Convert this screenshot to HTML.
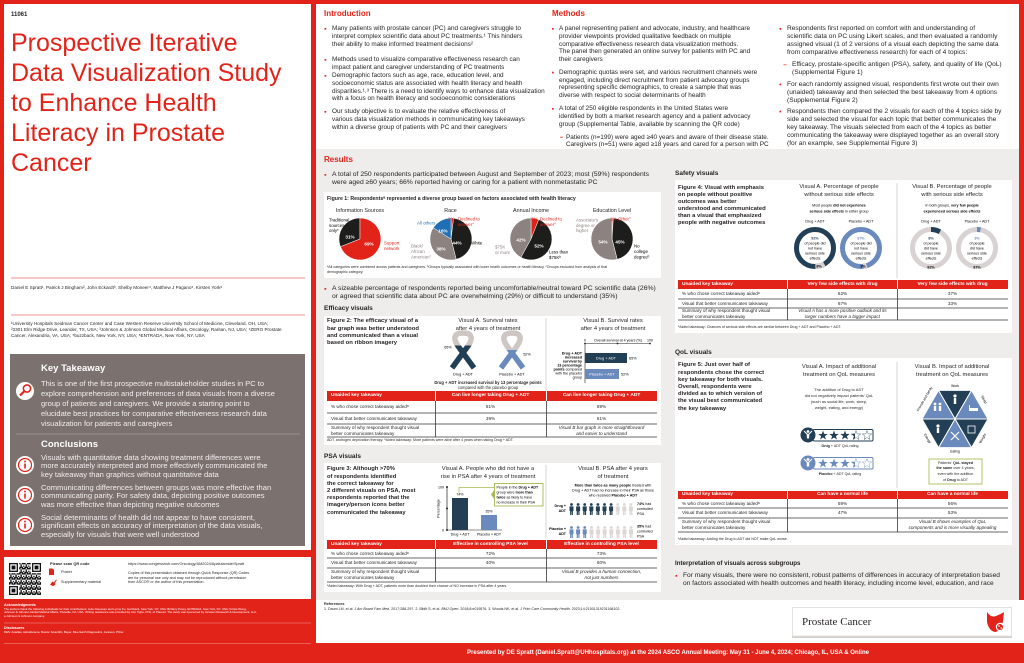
<!DOCTYPE html>
<html><head><meta charset="utf-8">
<style>
*{margin:0;padding:0;box-sizing:border-box}
body{width:1024px;height:663px;overflow:hidden;position:relative;font-family:"Liberation Sans",sans-serif;color:#231f20;background:#e2231a}
.a{position:absolute;white-space:nowrap}
.b{font-weight:bold}
.c{text-align:center;transform:translateX(-50%)}
.r{text-align:right;transform:translateX(-100%)}
.i{font-style:italic}
svg{position:absolute;left:0;top:0}
svg text{font-family:"Liberation Sans",sans-serif}
.p1{font-size:6.4px;line-height:7.67px}
.p3{font-size:6.6px;line-height:8.1px}
.rb{font-size:6.8px;line-height:8.3px}
.h1{font-size:8px;line-height:10px;font-weight:bold;color:#e2231a}
.h2{font-size:6.5px;line-height:8px;font-weight:bold}
.ft{font-size:5.9px;line-height:7.2px;font-weight:bold}
.vt{font-size:5.8px;line-height:7.5px}
.th{font-size:4.8px;line-height:6px;font-weight:bold;color:#fff}
.td{font-size:4.6px;line-height:6px}
.fn{font-size:3.6px;line-height:5px}
.w{color:#fff}
</style></head><body>
<svg width="1024" height="663" viewBox="0 0 1024 663">
<defs>
<linearGradient id="g1" gradientUnits="userSpaceOnUse" x1="0" y1="333" x2="0" y2="368"><stop offset="0.35" stop-color="#cdc6c2"/><stop offset="0.35" stop-color="#223f55"/></linearGradient>
<linearGradient id="g2" gradientUnits="userSpaceOnUse" x1="0" y1="333" x2="0" y2="368"><stop offset="0.48" stop-color="#cdc6c2"/><stop offset="0.48" stop-color="#6a89bd"/></linearGradient>
<polygon id="st" points="0,-5 1.176,-1.618 4.755,-1.545 1.902,0.618 2.939,4.045 0,2 -2.939,4.045 -1.902,0.618 -4.755,-1.545 -1.176,-1.618"/>
<g id="p"><circle cx="2.5" cy="1.5" r="1.4"/><path d="M0.5 3.4h4v4.6h-0.6v4h-1.2v-3.4h-0.4v3.4h-1.2v-4h-0.6z"/></g>
<pattern id="qr" width="5.12" height="5.12" patternUnits="userSpaceOnUse" x="9" y="563"><rect x="0" y="0" width="1.28" height="1.28"/><rect x="2.56" y="0" width="2.56" height="1.28"/><rect x="1.28" y="1.28" width="1.28" height="2.56"/><rect x="3.84" y="2.56" width="1.28" height="1.28"/><rect x="0" y="3.84" width="2.56" height="1.28"/><rect x="2.56" y="3.84" width="1.28" height="1.28"/></pattern>
<clipPath id="hc1"><rect x="850" y="428" width="5" height="14"/></clipPath>
<clipPath id="hc2"><rect x="850" y="456" width="5" height="14"/></clipPath>
</defs>
<rect width="1024" height="663" fill="#e2231a"/>
<rect x="4" y="4" width="307" height="546" fill="#fff"/>
<rect x="316" y="4" width="703" height="145" fill="#fff"/>
<rect x="316" y="149" width="703" height="451" fill="#eeedeb"/>
<rect x="316" y="600" width="708" height="43" fill="#fff"/>
<rect x="4" y="557" width="307" height="42" fill="#fff"/>
<rect x="10" y="354" width="295" height="192" fill="#7b716e"/>
<line x1="16" y1="434" x2="300" y2="434" stroke="#a59c99" stroke-width="0.8"/>
<line x1="11" y1="278" x2="305" y2="278" stroke="#e2231a" stroke-width="0.6"/>
<line x1="11" y1="315" x2="305" y2="315" stroke="#e2231a" stroke-width="0.6"/>
<line x1="4" y1="623" x2="311" y2="623" stroke="#f29a96" stroke-width="0.6"/>
<line x1="4" y1="643.5" x2="311" y2="643.5" stroke="#f29a96" stroke-width="0.6"/>
<circle cx="25" cy="391" r="9" fill="#fff"/>
<circle cx="27" cy="388.5" r="3.6" fill="none" stroke="#e2231a" stroke-width="1.6"/>
<line x1="24.5" y1="391" x2="20" y2="395.5" stroke="#e2231a" stroke-width="2.2"/>
<g fill="#fff"><circle cx="25" cy="465" r="9"/><circle cx="25" cy="495" r="9"/><circle cx="25" cy="525" r="9"/></g>
<g fill="none" stroke="#e2231a" stroke-width="1.2"><circle cx="25" cy="465" r="6.5"/><circle cx="25" cy="495" r="6.5"/><circle cx="25" cy="525" r="6.5"/></g>
<g fill="#e2231a"><rect x="24.2" y="463.5" width="1.6" height="5"/><circle cx="25" cy="461.5" r="0.95"/><rect x="24.2" y="493.5" width="1.6" height="5"/><circle cx="25" cy="491.5" r="0.95"/><rect x="24.2" y="523.5" width="1.6" height="5"/><circle cx="25" cy="521.5" r="0.95"/></g>
<rect x="9" y="563" width="32" height="32" fill="url(#qr)"/>
<g fill="#fff"><rect x="9" y="563" width="10.24" height="10.24"/><rect x="30.76" y="563" width="10.24" height="10.24"/><rect x="9" y="584.76" width="10.24" height="10.24"/></g>
<g fill="#111"><rect x="9" y="563" width="8.96" height="8.96"/><rect x="32.04" y="563" width="8.96" height="8.96"/><rect x="9" y="586.04" width="8.96" height="8.96"/></g>
<g fill="#fff"><rect x="10.28" y="564.28" width="6.4" height="6.4"/><rect x="33.32" y="564.28" width="6.4" height="6.4"/><rect x="10.28" y="587.32" width="6.4" height="6.4"/></g>
<g fill="#111"><rect x="11.56" y="565.56" width="3.84" height="3.84"/><rect x="34.6" y="565.56" width="3.84" height="3.84"/><rect x="11.56" y="588.6" width="3.84" height="3.84"/></g>
<path d="M49 568.5h3.5l1.5 1.5v5h-5z" fill="#e2231a"/>
<path d="M50 584.5l2.5-3 1.5 1 2-3 0.8 0.6-2 3.2 0.8 1.2-2.6 1.8z" fill="#e2231a"/>
<g fill="#e2231a">
<rect x="324.5" y="28" width="1.7" height="1.7"/><rect x="324.5" y="59" width="1.7" height="1.7"/><rect x="324.5" y="75" width="1.7" height="1.7"/><rect x="324.5" y="111" width="1.7" height="1.7"/>
<rect x="552" y="28" width="1.7" height="1.7"/><rect x="552" y="71.7" width="1.7" height="1.7"/><rect x="552" y="108" width="1.7" height="1.7"/><rect x="560" y="136.8" width="3" height="0.7"/>
<rect x="779.5" y="28" width="1.7" height="1.7"/><rect x="783.5" y="64.5" width="3" height="0.7"/><rect x="779.5" y="83.6" width="1.7" height="1.7"/><rect x="779.5" y="110.7" width="1.7" height="1.7"/>
<rect x="324.5" y="174" width="1.7" height="1.7"/><rect x="324.5" y="288" width="1.7" height="1.7"/><rect x="675.5" y="575" width="1.7" height="1.7"/>
</g>
<g fill="#fff">
<rect x="324" y="192" width="337" height="86"/>
<rect x="324" y="316" width="337" height="129"/>
<rect x="324" y="463" width="337" height="129"/>
<rect x="675" y="180" width="337" height="153"/>
<rect x="675" y="358" width="337" height="187"/>
</g>
<g stroke="#fff" stroke-width="0.5">
<path d="M360,239 L340.47,246.73 A21,21 0 0 1 360,218 Z" fill="#1d1d1b"/>
<path d="M360,239 L360,218 A21,21 0 1 1 340.47,246.73 Z" fill="#e2231a"/>
<path d="M451,239 L451,218 A21,21 0 0 1 453.63,218.17 Z" fill="#e2231a"/>
<path d="M451,239 L453.63,218.17 A21,21 0 0 1 456.22,259.34 Z" fill="#1d1d1b"/>
<path d="M451,239 L456.22,259.34 A21,21 0 0 1 433.27,227.75 Z" fill="#8c8280"/>
<path d="M451,239 L433.27,227.75 A21,21 0 0 1 451,218 Z" fill="#1f6fb4"/>
<path d="M531,239 L531,218 A21,21 0 0 1 538.73,219.47 Z" fill="#e2231a"/>
<path d="M531,239 L538.73,219.47 A21,21 0 1 1 520.88,257.40 Z" fill="#1d1d1b"/>
<path d="M531,239 L520.88,257.40 A21,21 0 0 1 531,218 Z" fill="#8c8280"/>
<path d="M612,239 L612,218 A21,21 0 0 1 613.32,218.04 Z" fill="#e2231a"/>
<path d="M612,239 L613.32,218.04 A21,21 0 0 1 617.22,259.34 Z" fill="#1d1d1b"/>
<path d="M612,239 L617.22,259.34 A21,21 0 1 1 612,218 Z" fill="#8c8280"/>
</g>
<g font-size="4.4">
<text x="329" y="221.5">Traditional</text><text x="329" y="226.8">sources</text><text x="329" y="232.1">only*</text>
<text x="384" y="244.5" fill="#e2231a">Support</text><text x="384" y="250" fill="#e2231a">network</text>
<text x="417" y="224.5" fill="#1f6fb4">All others</text>
<text x="448" y="220.5" fill="#e2231a">2%</text><text x="458" y="220.5" fill="#e2231a">Declined to</text><text x="458" y="226" fill="#e2231a">answer°</text>
<text x="471" y="244.5">White</text>
<text x="411" y="247.5" fill="#8c8280">Black/</text><text x="411" y="253" fill="#8c8280">African</text><text x="411" y="258.5" fill="#8c8280">American°</text>
<text x="531" y="220.5" fill="#e2231a">6%</text><text x="540" y="220.5" fill="#e2231a">Declined to</text><text x="540" y="226" fill="#e2231a">answer°</text>
<text x="495" y="248.5" fill="#8c8280">$75K</text><text x="495" y="254" fill="#8c8280">or more</text>
<text x="549" y="253.5">Less than</text><text x="549" y="259">$75Kᵇ</text>
<text x="610" y="220.5" fill="#e2231a">1%</text><text x="618" y="220.5" fill="#e2231a">Other°</text>
<text x="576" y="221.5" fill="#8c8280">Associate's</text><text x="576" y="226.8" fill="#8c8280">degree or</text><text x="576" y="232.1" fill="#8c8280">higher</text>
<text x="634" y="247.5">No</text><text x="634" y="253">college</text><text x="634" y="258.5">degreeᵇ</text>
</g>
<g font-size="4.6" font-weight="bold" fill="#fff" text-anchor="middle">
<text x="350" y="238.6">31%</text><text x="369" y="245.6">69%</text>
<text x="443" y="232.6">16%</text><text x="457" y="244.6">44%</text><text x="441" y="250.6">38%</text>
<text x="521" y="241.6">42%</text><text x="539" y="247.6">52%</text>
<text x="603" y="243.6">54%</text><text x="620" y="243.6">45%</text>
</g>
<line x1="546" y1="318" x2="546" y2="390" stroke="#cfcac8" stroke-width="0.8"/>
<path d="M474 368 L458 346 C452 337 455 333 463 333 C471 333 474 337 468 346 L452 368" fill="none" stroke="url(#g1)" stroke-width="5.5" stroke-linejoin="round"/>
<path d="M523 368 L507 346 C501 337 504 333 512 333 C520 333 523 337 517 346 L501 368" fill="none" stroke="url(#g2)" stroke-width="5.5" stroke-linejoin="round"/>
<g font-size="3.8" text-anchor="middle">
<text x="448" y="348.3">65%</text><text x="527" y="355.3">52%</text>
<text x="463" y="375.3">Drug + ADT</text><text x="512" y="375.3">Placebo + ADT</text>
</g>
<g font-size="3.6">
<text x="585" y="341.3" text-anchor="middle">0</text><text x="650" y="341.3" text-anchor="middle">100</text>
<text x="618" y="341.3" text-anchor="middle">Overall survival at 4 years (%)</text>
</g>
<line x1="585" y1="343.5" x2="650" y2="343.5" stroke="#231f20" stroke-width="0.6"/>
<g fill="#231f20"><circle cx="585" cy="343.5" r="0.9"/><circle cx="617.5" cy="343.5" r="0.9"/><circle cx="650" cy="343.5" r="0.9"/></g>
<line x1="585" y1="343.5" x2="585" y2="383" stroke="#231f20" stroke-width="0.6"/>
<rect x="585" y="353" width="42" height="10" fill="#223f55"/>
<rect x="585" y="369" width="34" height="10" fill="#6a89bd"/>
<g font-size="3.8">
<text x="606" y="359.3" text-anchor="middle" fill="#fff">Drug + ADT</text>
<text x="602" y="375.3" text-anchor="middle" fill="#fff">Placebo + ADT</text>
<text x="629" y="359.3">65%</text><text x="621" y="375.3">52%</text>
</g>
<g font-size="3.7" text-anchor="end">
<text x="582" y="354.3" font-weight="bold">Drug + ADT</text>
<text x="582" y="358.3" font-weight="bold">increased</text>
<text x="582" y="362.3" font-weight="bold">survival by</text>
<text x="582" y="366.3" font-weight="bold">13 percentage</text>
<text x="582" y="370.3"><tspan font-weight="bold">points</tspan> compared</text>
<text x="582" y="374.3">with the placebo</text>
<text x="582" y="378.3">group</text>
</g>
<g fill="#e2231a"><rect x="327" y="391" width="108" height="10"/><rect x="436" y="391" width="110" height="10"/><rect x="547" y="391" width="110" height="10"/></g>
<path d="M327 413H657M327 424H657M327 437H657" stroke="#3a3a3a" stroke-width="0.8"/>
<path d="M435.5 401V437M546.5 401V437" stroke="#3a3a3a" stroke-width="0.8"/>
<line x1="546" y1="465" x2="546" y2="538" stroke="#cfcac8" stroke-width="0.8"/>
<line x1="447" y1="487" x2="447" y2="530" stroke="#231f20" stroke-width="0.7"/>
<line x1="447" y1="530" x2="502" y2="530" stroke="#231f20" stroke-width="0.5"/>
<g fill="#231f20"><circle cx="447" cy="487" r="1"/><circle cx="447" cy="508.5" r="1"/><circle cx="447" cy="530" r="1"/></g>
<rect x="452" y="498" width="16" height="32" fill="#223f55"/>
<rect x="481" y="515" width="16" height="15" fill="#6a89bd"/>
<g font-size="3.6">
<text x="444" y="488.3" text-anchor="end">100</text><text x="444" y="531.3" text-anchor="end">0</text>
<text x="460" y="495.5" text-anchor="middle">74%</text><text x="489" y="512.5" text-anchor="middle">35%</text>
<text x="460" y="535.5" text-anchor="middle">Drug + ADT</text><text x="489" y="535.5" text-anchor="middle">Placebo + ADT</text>
<text transform="translate(439.5 508.5) rotate(-90)" text-anchor="middle">Percentage</text>
</g>
<polyline points="459,492.5 459,487.5 494,487.5" fill="none" stroke="#a7b94f" stroke-width="0.8"/>
<rect x="494.5" y="483.5" width="48.5" height="22.5" fill="#fff" stroke="#a7b94f" stroke-width="0.9"/>
<polygon points="494.5,489.5 491,494.5 494.5,499.5" fill="#a7b94f"/>
<g font-size="3.6">
<text x="496.5" y="488.3">People in the <tspan font-weight="bold">Drug + ADT</tspan></text>
<text x="496.5" y="493.3">group were <tspan font-weight="bold">more than</tspan></text>
<text x="496.5" y="498.3"><tspan font-weight="bold">twice</tspan> as likely to have</text>
<text x="496.5" y="503.3">no increase in their PSA</text>
</g>
<g font-size="3.7" text-anchor="middle">
<text x="613" y="486.3"><tspan font-weight="bold">More than twice as many people</tspan> treated with</text>
<text x="613" y="491.3">Drug + ADT had no increase in their PSA as those</text>
<text x="613" y="496.3">who received <tspan font-weight="bold">Placebo + ADT</tspan></text>
</g>
<g fill="#223f55">
<use href="#p" x="569" y="503"/><use href="#p" x="575.6" y="503"/><use href="#p" x="582.2" y="503"/><use href="#p" x="588.8" y="503"/><use href="#p" x="595.4" y="503"/><use href="#p" x="602" y="503"/><use href="#p" x="608.6" y="503"/>
</g>
<g fill="#dcd7d5">
<use href="#p" x="615.2" y="503"/><use href="#p" x="621.8" y="503"/><use href="#p" x="628.4" y="503"/>
<use href="#p" x="589" y="526"/><use href="#p" x="595.6" y="526"/><use href="#p" x="602.2" y="526"/><use href="#p" x="608.8" y="526"/><use href="#p" x="615.4" y="526"/><use href="#p" x="622" y="526"/><use href="#p" x="628.6" y="526"/>
</g>
<g fill="#6a89bd"><use href="#p" x="569" y="526"/><use href="#p" x="575.6" y="526"/><use href="#p" x="582.2" y="526"/></g>
<g font-size="3.6">
<text x="566" y="506.8" text-anchor="end" font-weight="bold">Drug +</text><text x="566" y="511.8" text-anchor="end" font-weight="bold">ADT</text>
<text x="566" y="529.8" text-anchor="end" font-weight="bold">Placebo +</text><text x="566" y="534.8" text-anchor="end" font-weight="bold">ADT</text>
<text x="637" y="504.8"><tspan font-weight="bold">74%</tspan> had</text><text x="637" y="509.8">controlled</text><text x="637" y="514.8">PSA</text>
<text x="637" y="527.3"><tspan font-weight="bold">35%</tspan> had</text><text x="637" y="532.3">controlled</text><text x="637" y="537.3">PSA</text>
</g>
<g fill="#e2231a"><rect x="327" y="540" width="108" height="9"/><rect x="436" y="540" width="110" height="9"/><rect x="547" y="540" width="110" height="9"/></g>
<path d="M327 558H657M327 568H657M327 582H657" stroke="#3a3a3a" stroke-width="0.8"/>
<path d="M435.5 549V582M546.5 549V582" stroke="#3a3a3a" stroke-width="0.8"/>
<line x1="897" y1="183" x2="897" y2="278" stroke="#cfcac8" stroke-width="0.8"/>
<circle cx="815" cy="248" r="18.5" fill="none" stroke="#223f55" stroke-width="5"/>
<circle cx="815" cy="248" r="18.5" fill="none" stroke="#d8d3d2" stroke-width="5" stroke-dasharray="9.3 200" transform="rotate(60 815 248)"/>
<circle cx="861" cy="248" r="18.5" fill="none" stroke="#6a89bd" stroke-width="5"/>
<circle cx="861" cy="248" r="18.5" fill="none" stroke="#d8d3d2" stroke-width="5" stroke-dasharray="3.5 200" transform="rotate(72 861 248)"/>
<circle cx="931" cy="248" r="18.5" fill="none" stroke="#d8d3d2" stroke-width="5"/>
<circle cx="931" cy="248" r="18.5" fill="none" stroke="#223f55" stroke-width="5" stroke-dasharray="9.3 200" transform="rotate(-90 931 248)"/>
<circle cx="977" cy="248" r="18.5" fill="none" stroke="#d8d3d2" stroke-width="5"/>
<circle cx="977" cy="248" r="18.5" fill="none" stroke="#6a89bd" stroke-width="5" stroke-dasharray="3.5 200" transform="rotate(-90 977 248)"/>
<g font-size="3.7" text-anchor="middle">
<text x="839" y="206.3">Most people <tspan font-weight="bold">did not experience</tspan></text>
<text x="839" y="212.3"><tspan font-weight="bold">serious side effects</tspan> in either group</text>
<text x="952" y="206.3">In both groups, <tspan font-weight="bold">very few people</tspan></text>
<text x="952" y="212.3"><tspan font-weight="bold">experienced serious side effects</tspan></text>
<text x="815" y="222.3">Drug + ADT</text><text x="861" y="222.3">Placebo + ADT</text>
<text x="931" y="222.3">Drug + ADT</text><text x="977" y="222.3">Placebo + ADT</text>
<text x="815" y="239.3" fill="#223f55" font-weight="bold">92%</text><text x="815" y="244.3">of people did</text><text x="815" y="249.3">not have</text><text x="815" y="254.3">serious side</text><text x="815" y="259.3">effects</text>
<text x="861" y="239.3" fill="#6a89bd" font-weight="bold">97%</text><text x="861" y="244.3">of people did</text><text x="861" y="249.3">not have</text><text x="861" y="254.3">serious side</text><text x="861" y="259.3">effects</text>
<text x="931" y="239.3" fill="#223f55" font-weight="bold">8%</text><text x="931" y="244.3">of people</text><text x="931" y="249.3">did have</text><text x="931" y="254.3">serious side</text><text x="931" y="259.3">effects</text>
<text x="977" y="239.3" fill="#6a89bd" font-weight="bold">3%</text><text x="977" y="244.3">of people</text><text x="977" y="249.3">did have</text><text x="977" y="254.3">serious side</text><text x="977" y="259.3">effects</text>
<text x="819" y="267.6" font-weight="bold">8%</text><text x="863" y="267.6" font-weight="bold">3%</text>
<text x="931" y="268.3" font-weight="bold">92%</text><text x="977" y="268.3" font-weight="bold">97%</text>
</g>
<g fill="#e2231a"><rect x="678" y="280" width="109" height="9"/><rect x="788" y="280" width="109" height="9"/><rect x="898" y="280" width="110" height="9"/></g>
<path d="M678 299H1008M678 308H1008M678 320H1008" stroke="#3a3a3a" stroke-width="0.8"/>
<path d="M787.5 289V320M897.5 289V320" stroke="#3a3a3a" stroke-width="0.8"/>
<line x1="897" y1="362" x2="897" y2="488" stroke="#cfcac8" stroke-width="0.8"/>
<rect x="813" y="429.5" width="60" height="11.5" rx="1.5" fill="#fff" stroke="#223f55" stroke-width="1"/>
<circle cx="808" cy="435" r="7.5" fill="#223f55"/>
<g fill="#223f55"><use href="#st" transform="translate(823 435.5)"/><use href="#st" transform="translate(834 435.5)"/><use href="#st" transform="translate(845 435.5)"/><g clip-path="url(#hc1)"><use href="#st" transform="translate(856 435.5)"/></g></g>
<g fill="none" stroke="#223f55" stroke-width="0.4"><use href="#st" transform="translate(856 435.5)"/><use href="#st" transform="translate(867 435.5)"/></g>
<rect x="813" y="457.5" width="60" height="11.5" rx="1.5" fill="#fff" stroke="#6a89bd" stroke-width="1"/>
<circle cx="808" cy="463" r="7.5" fill="#6a89bd"/>
<g fill="#6a89bd"><use href="#st" transform="translate(823 463.5)"/><use href="#st" transform="translate(834 463.5)"/><use href="#st" transform="translate(845 463.5)"/><g clip-path="url(#hc2)"><use href="#st" transform="translate(856 463.5)"/></g></g>
<g fill="none" stroke="#6a89bd" stroke-width="0.4"><use href="#st" transform="translate(856 463.5)"/><use href="#st" transform="translate(867 463.5)"/></g>
<g fill="#fff"><circle cx="808" cy="431.5" r="1.4"/><rect x="806.8" y="434" width="2.4" height="4.5"/><circle cx="808" cy="459.5" r="1.4"/><rect x="806.8" y="462" width="2.4" height="4.5"/></g>
<path d="M804 431l4 4 4-4M804 459l4 4 4-4" fill="none" stroke="#fff" stroke-width="1"/>
<g stroke="#fff" stroke-width="1">
<polygon points="955,419 938.5,390.4 971.5,390.4" fill="#223f55"/>
<polygon points="955,419 971.5,390.4 988,419" fill="#6a89bd"/>
<polygon points="955,419 988,419 971.5,447.6" fill="#223f55"/>
<polygon points="955,419 971.5,447.6 938.5,447.6" fill="#6a89bd"/>
<polygon points="955,419 938.5,447.6 922,419" fill="#223f55"/>
<polygon points="955,419 922,419 938.5,390.4" fill="#6a89bd"/>
</g>
<g fill="#fff">
<circle cx="955" cy="396" r="1.6"/><rect x="953.8" y="398" width="2.4" height="6"/>
<rect x="969" y="408" width="9" height="3"/><rect x="969" y="405" width="1" height="6"/>
<rect x="968" y="426" width="7" height="7" fill="none" stroke="#fff" stroke-width="0.8"/>
<path d="M951 432l8 8M959 432l-8 8" stroke="#fff" stroke-width="1.2"/>
<circle cx="938" cy="426" r="1.6"/><rect x="936.8" y="428" width="2.4" height="5"/>
<circle cx="935" cy="404" r="1.4"/><rect x="933.8" y="406" width="2.4" height="5"/><circle cx="940" cy="404" r="1.4"/><rect x="938.8" y="406" width="2.4" height="5"/>
</g>
<g font-size="3.4" text-anchor="middle">
<text x="955" y="387.2">Work</text>
<text x="955" y="452.6">Eating</text>
<text transform="translate(983 400) rotate(60)">Sleep</text>
<text transform="translate(983.5 439) rotate(-60)">Weight</text>
<text transform="translate(926.5 439) rotate(60)">Energy</text>
<text transform="translate(925.5 399.5) rotate(-60)">Friends and family</text>
</g>
<rect x="929" y="459" width="53" height="25" fill="#fff" stroke="#b5c46a" stroke-width="1"/>
<g fill="#e2231a"><rect x="678" y="491" width="109" height="8"/><rect x="788" y="491" width="109" height="8"/><rect x="898" y="491" width="110" height="8"/></g>
<path d="M678 508H1008M678 518H1008M678 532H1008" stroke="#3a3a3a" stroke-width="0.8"/>
<path d="M787.5 499V532M897.5 499V532" stroke="#3a3a3a" stroke-width="0.8"/>
<rect x="792" y="607" width="220" height="31" fill="#d5d0ce"/>
<rect x="792.5" y="607.5" width="219" height="28.5" fill="#fff" stroke="#e3dfdd" stroke-width="0.8"/>
<path d="M987 612 q4 6 9 4 q5 -2 8 -4 l-1 9 q-2 10 -8 11 q-6 -1 -8 -10z" fill="#e2231a"/>
<circle cx="1000" cy="627" r="4.2" fill="#fff"/><circle cx="1000" cy="627" r="3" fill="#e2231a"/><circle cx="999" cy="626" r="0.8" fill="#fff"/><circle cx="1001.2" cy="628" r="0.8" fill="#fff"/>
</svg>

<div class="a b" style="left:11px;top:12px;font-size:6px;line-height:6px">11061</div>
<div class="a" style="left:11px;top:28px;font-size:25px;line-height:30px;color:#e2231a">Prospective Iterative<br>Data Visualization Study<br>to Enhance Health<br>Literacy in Prostate<br>Cancer</div>
<div class="a" style="left:11px;top:284.5px;font-size:4.6px;line-height:5px">Daniel E Spratt¹, Patrick J Bingham², John Eckardt³, Shelby Moneer⁴, Matthew J Pagano⁵, Kirsten York⁶</div>
<div class="a" style="left:11px;top:321px;font-size:4.6px;line-height:5.8px">¹University Hospitals Seidman Cancer Center and Case Western Reserve University School of Medicine, Cleveland, OH, USA;<br>²3301 Elm Ridge Drive, Leander, TX, USA; ³Johnson &amp; Johnson Global Medical Affairs, Oncology, Raritan, NJ, USA; ⁴ZERO Prostate<br>Cancer, Alexandria, VA, USA; ⁵buzzback, New York, NY, USA; ⁶ENTRADA, New York, NY, USA</div>
<div class="a b w" style="left:41px;top:362.5px;font-size:9.5px;line-height:11px">Key Takeaway</div>
<div class="a" style="left:41px;top:379px;font-size:7.5px;line-height:10px;color:#f2efee">This is one of the first prospective multistakeholder studies in PC to<br>explore comprehension and preferences of data visuals from a diverse<br>group of patients and caregivers. We provide a starting point to<br>elucidate best practices for comparative effectiveness research data<br>visualization for patients and caregivers</div>
<div class="a b w" style="left:41px;top:438.5px;font-size:9.5px;line-height:11px">Conclusions</div>
<div class="a" style="left:41px;top:453.8px;font-size:7.6px;line-height:8.4px;color:#f2efee">Visuals with quantitative data showing treatment differences were<br>more accurately interpreted and more effectively communicated the<br>key takeaway than graphics without quantitative data</div>
<div class="a" style="left:41px;top:483.8px;font-size:7.6px;line-height:8.4px;color:#f2efee">Communicating differences between groups was more effective than<br>communicating parity. For safety data, depicting positive outcomes<br>was more effective than depicting negative outcomes</div>
<div class="a" style="left:41px;top:513.8px;font-size:7.6px;line-height:8.4px;color:#f2efee">Social determinants of health did not appear to have consistent,<br>significant effects on accuracy of interpretation of the data visuals,<br>especially for visuals that were well understood</div>
<div class="a b" style="left:50px;top:562px;font-size:3.9px;line-height:4px">Please scan QR code</div>
<div class="a" style="left:61px;top:570px;font-size:3.8px;line-height:4px">Poster</div>
<div class="a" style="left:61px;top:580px;font-size:3.8px;line-height:4px">Supplementary material</div>
<div class="a" style="left:128px;top:562px;font-size:3.8px;line-height:4px">https://www.congresshub.com/Oncology/AM2024/Apalutamide/Spratt</div>
<div class="a" style="left:128px;top:571px;font-size:3.7px;line-height:4.6px">Copies of this presentation obtained through Quick Response (QR) Codes<br>are for personal use only and may not be reproduced without permission<br>from ASCO® or the author of this presentation.</div>
<div class="a b w" style="left:4px;top:603px;font-size:3.6px;line-height:4px">Acknowledgments</div>
<div class="a w" style="left:4px;top:607.5px;font-size:2.9px;line-height:3.8px">The authors thank the following individuals for their contributions: Julie Dreessen and Lynne Fu, buzzback, New York, NY, USA; Brittany Posey, ENTRADA, New York, NY, USA; Kristie Wong,<br>Johnson &amp; Johnson Global Medical Affairs, Titusville, NJ, USA. Writing assistance was provided by Ann Tighe, PhD, of Parexel. The study was sponsored by Janssen Research &amp; Development, LLC,<br>a Johnson &amp; Johnson company.</div>
<div class="a b w" style="left:4px;top:626px;font-size:3.6px;line-height:4px">Disclosures</div>
<div class="a w" style="left:4px;top:631px;font-size:2.9px;line-height:3.8px">DES: Astellas, AstraZeneca, Boston Scientific, Bayer, Blue Earth Diagnostics, Janssen, Pfizer</div>

<div class="a h1" style="left:324px;top:9px">Introduction</div>
<div class="a h1" style="left:552px;top:9px">Methods</div>
<div class="a p1" style="left:332px;top:25.2px">Many patients with prostate cancer (PC) and caregivers struggle to<br>interpret complex scientific data about PC treatments.¹ This hinders<br>their ability to make informed treatment decisions²</div>
<div class="a p1" style="left:332px;top:56.2px">Methods used to visualize comparative effectiveness research can<br>impact patient and caregiver understanding of PC treatments</div>
<div class="a p1" style="left:332px;top:72.2px">Demographic factors such as age, race, education level, and<br>socioeconomic status are associated with health literacy and health<br>disparities.¹˒³ There is a need to identify ways to enhance data visualization<br>with a focus on health literacy and socioeconomic considerations</div>
<div class="a p1" style="left:332px;top:108.2px">Our study objective is to evaluate the relative effectiveness of<br>various data visualization methods in communicating key takeaways<br>within a diverse group of patients with PC and their caregivers</div>
<div class="a p1" style="left:559px;top:25.2px">A panel representing patient and advocate, industry, and healthcare<br>provider viewpoints provided qualitative feedback on multiple<br>comparative effectiveness research data visualization methods.<br>The panel then generated an online survey for patients with PC and<br>their caregivers</div>
<div class="a p1" style="left:559px;top:68.9px">Demographic quotas were set, and various recruitment channels were<br>engaged, including direct recruitment from patient advocacy groups<br>representing specific demographics, to create a sample that was<br>diverse with respect to social determinants of health</div>
<div class="a p1" style="left:559px;top:105.2px">A total of 250 eligible respondents in the United States were<br>identified by both a market research agency and a patient advocacy<br>group (Supplemental Table, available by scanning the QR code)</div>
<div class="a p1" style="left:566px;top:133.5px">Patients (n=199) were aged ≥40 years and aware of their disease state.<br>Caregivers (n=51) were aged ≥18 years and cared for a person with PC</div>
<div class="a p3" style="left:787px;top:25px">Respondents first reported on comfort with and understanding of<br>scientific data on PC using Likert scales, and then evaluated a randomly<br>assigned visual (1 of 2 versions of a visual each depicting the same data<br>from comparative effectiveness research) for each of 4 topics:</div>
<div class="a p3" style="left:792px;top:61px">Efficacy, prostate-specific antigen (PSA), safety, and quality of life (QoL)<br>(Supplemental Figure 1)</div>
<div class="a p3" style="left:787px;top:80.6px">For each randomly assigned visual, respondents first wrote out their own<br>(unaided) takeaway and then selected the best takeaway from 4 options<br>(Supplemental Figure 2)</div>
<div class="a p3" style="left:787px;top:107.6px">Respondents then compared the 2 visuals for each of the 4 topics side by<br>side and selected the visual for each topic that better communicates the<br>key takeaway. The visuals selected from each of the 4 topics as better<br>communicating the takeaway were displayed together as an overall story<br>(for an example, see Supplemental Figure 3)</div>

<div class="a h1" style="left:324px;top:155px">Results</div>
<div class="a rb" style="left:332px;top:170.85px">A total of 250 respondents participated between August and September of 2023; most (59%) respondents<br>were aged ≥60 years; 66% reported having or caring for a patient with nonmetastatic PC</div>
<div class="a b" style="left:327px;top:197.3px;font-size:5.2px;line-height:5.4px">Figure 1: Respondentsᵃ represented a diverse group based on factors associated with health literacy</div>
<div class="a c" style="left:360px;top:207.7px;font-size:5.4px;line-height:6px">Information Sources</div>
<div class="a c" style="left:450.5px;top:207.7px;font-size:5.4px;line-height:6px">Race</div>
<div class="a c" style="left:531px;top:207.7px;font-size:5.4px;line-height:6px">Annual Income</div>
<div class="a c" style="left:612px;top:207.7px;font-size:5.4px;line-height:6px">Education Level</div>
<div class="a fn" style="left:327px;top:264.5px">ᵃAll categories were combined across patients and caregivers. ᵇGroups typically associated with lower health outcomes or health literacy. ᶜGroups excluded from analysis of that<br>demographic category.</div>
<div class="a rb" style="left:332px;top:284.85px">A sizeable percentage of respondents reported being uncomfortable/neutral toward PC scientific data (26%)<br>or agreed that scientific data about PC are overwhelming (29%) or difficult to understand (35%)</div>
<div class="a h2" style="left:324px;top:305px">Efficacy visuals</div>
<div class="a ft" style="left:327px;top:318.4px">Figure 2: The efficacy visual of a<br>bar graph was better understood<br>and communicated than a visual<br>based on ribbon imagery</div>
<div class="a c vt" style="left:488px;top:318px">Visual A. Survival rates<br>after 4 years of treatment</div>
<div class="a c vt" style="left:613px;top:318px">Visual B. Survival rates<br>after 4 years of treatment</div>
<div class="a c" style="left:488px;top:379.5px;font-size:4.1px;line-height:5px"><b>Drug + ADT increased survival by 13 percentage points</b><br>compared with the placebo group</div>
<div class="a th" style="left:331px;top:393px">Unaided key takeaway</div>
<div class="a th c" style="left:490.5px;top:393px">Can live longer taking Drug + ADT</div>
<div class="a th c" style="left:601.5px;top:393px">Can live longer taking Drug + ADT</div>
<div class="a td" style="left:331px;top:404px">% who chose correct takeaway aidedᵃ</div>
<div class="a td c" style="left:490.5px;top:404px">81%</div>
<div class="a td c" style="left:601.5px;top:404px">89%</div>
<div class="a td" style="left:331px;top:415.5px">Visual that better communicates takeaway</div>
<div class="a td c" style="left:490.5px;top:415.5px">39%</div>
<div class="a td c" style="left:601.5px;top:415.5px">61%</div>
<div class="a td" style="left:331px;top:424.5px">Summary of why respondent thought visual<br>better communicates takeaway</div>
<div class="a td c i" style="left:601.5px;top:424.5px">Visual B bar graph is more straightforward<br>and easier to understand</div>
<div class="a fn" style="left:327px;top:437.5px">ADT, androgen deprivation therapy. ᵃAided takeaway: More patients were alive after 4 years when taking Drug + ADT.</div>

<div class="a h2" style="left:324px;top:453px">PSA visuals</div>
<div class="a" style="left:327px;top:466.4px;font-size:5.8px;line-height:7.2px;font-weight:bold">Figure 3: Although &gt;70%<br>of respondents identified<br>the correct takeaway for<br>2 different visuals on PSA, most<br>respondents reported that the<br>imagery/person icons better<br>communicated the takeaway</div>
<div class="a c vt" style="left:488px;top:466px">Visual A. People who did not have a<br>rise in PSA after 4 years of treatment</div>
<div class="a c vt" style="left:613px;top:466px">Visual B. PSA after 4 years<br>of treatment</div>
<div class="a th" style="left:331px;top:541.5px">Unaided key takeaway</div>
<div class="a th c" style="left:490.5px;top:541.5px">Effective in controlling PSA level</div>
<div class="a th c" style="left:601.5px;top:541.5px">Effective in controlling PSA level</div>
<div class="a td" style="left:331px;top:550.5px">% who chose correct takeaway aidedᵃ</div>
<div class="a td c" style="left:490.5px;top:550.5px">72%</div>
<div class="a td c" style="left:601.5px;top:550.5px">73%</div>
<div class="a td" style="left:331px;top:560px">Visual that better communicates takeaway</div>
<div class="a td c" style="left:490.5px;top:560px">40%</div>
<div class="a td c" style="left:601.5px;top:560px">60%</div>
<div class="a td" style="left:331px;top:569px">Summary of why respondent thought visual<br>better communicates takeaway</div>
<div class="a td c i" style="left:601.5px;top:569px">Visual B provides a human connection,<br>not just numbers</div>
<div class="a fn" style="left:327px;top:583.5px">ᵃAided takeaway: With Drug + ADT, patients more than doubled their chance of NO increase in PSA after 4 years.</div>

<div class="a b" style="left:324px;top:602px;font-size:3.8px;line-height:4px">References</div>
<div class="a" style="left:324px;top:607px;font-size:3.6px;line-height:4px">1. Daum LM, et al. <i>J Am Board Fam Med.</i> 2017;288-297. 2. Bibilt S, et al. <i>BMJ Open.</i> 2018;8:e019576. 3. Woods NK, et al. <i>J Prim Care Community Health.</i> 2023;14:21501319231168102.</div>

<div class="a h2" style="left:675px;top:170.3px">Safety visuals</div>
<div class="a ft" style="left:678px;top:184.5px;line-height:7px">Figure 4: Visual with emphasis<br>on people without positive<br>outcomes was better<br>understood and communicated<br>than a visual that emphasized<br>people with negative outcomes</div>
<div class="a c vt" style="left:839px;top:184px">Visual A. Percentage of people<br>without serious side effects</div>
<div class="a c vt" style="left:952px;top:184px">Visual B. Percentage of people<br>with serious side effects</div>
<div class="a th" style="left:682px;top:281.5px">Unaided key takeaway</div>
<div class="a th c" style="left:842.5px;top:281.5px">Very few side effects with drug</div>
<div class="a th c" style="left:952.5px;top:281.5px">Very few side effects with drug</div>
<div class="a td" style="left:682px;top:291px">% who chose correct takeaway aidedᵃ</div>
<div class="a td c" style="left:842.5px;top:291px">62%</div>
<div class="a td c" style="left:952.5px;top:291px">37%</div>
<div class="a td" style="left:682px;top:300.5px">Visual that better communicates takeaway</div>
<div class="a td c" style="left:842.5px;top:300.5px">67%</div>
<div class="a td c" style="left:952.5px;top:300.5px">33%</div>
<div class="a td" style="left:682px;top:308px">Summary of why respondent thought visual<br>better communicates takeaway</div>
<div class="a td c i" style="left:842.5px;top:308px">Visual A has a more positive outlook and its<br>larger numbers have a bigger impact</div>
<div class="a fn" style="left:678px;top:324.5px">ᵃAided takeaway: Chances of serious side effects are similar between Drug + ADT and Placebo + ADT.</div>

<div class="a h2" style="left:675px;top:349px">QoL visuals</div>
<div class="a ft" style="left:678px;top:362.4px">Figure 5: Just over half of<br>respondents chose the correct<br>key takeaway for both visuals.<br>Overall, respondents were<br>divided as to which version of<br>the visual best communicated<br>the key takeaway</div>
<div class="a c vt" style="left:839px;top:364px">Visual A. Impact of additional<br>treatment on QoL measures</div>
<div class="a c vt" style="left:952px;top:364px">Visual B. Impact of additional<br>treatment on QoL measures</div>
<div class="a c" style="left:839px;top:387px;font-size:4px;line-height:6px">The addition of Drug to ADT<br>did not negatively impact patients' QoL<br>(such as social life, work, sleep,<br>weight, eating, and energy)</div>
<div class="a c" style="left:840px;top:443.5px;font-size:3.6px;line-height:5px"><b>Drug</b> + ADT QoL rating</div>
<div class="a c" style="left:840px;top:471.5px;font-size:3.6px;line-height:5px"><b>Placebo</b> + ADT QoL rating</div>
<div class="a c" style="left:955.5px;top:460.5px;font-size:3.7px;line-height:5.8px">Patients' <b>QoL stayed</b><br><b>the same</b> over 4 years,<br>even with the addition<br>of <b>Drug</b> to ADT</div>
<div class="a th" style="left:682px;top:492px">Unaided key takeaway</div>
<div class="a th c" style="left:842.5px;top:492px">Can have a normal life</div>
<div class="a th c" style="left:952.5px;top:492px">Can have a normal life</div>
<div class="a td" style="left:682px;top:500.5px">% who chose correct takeaway aidedᵃ</div>
<div class="a td c" style="left:842.5px;top:500.5px">59%</div>
<div class="a td c" style="left:952.5px;top:500.5px">56%</div>
<div class="a td" style="left:682px;top:510px">Visual that better communicates takeaway</div>
<div class="a td c" style="left:842.5px;top:510px">47%</div>
<div class="a td c" style="left:952.5px;top:510px">53%</div>
<div class="a td" style="left:682px;top:519px">Summary of why respondent thought visual<br>better communicates takeaway</div>
<div class="a td c i" style="left:952.5px;top:519px">Visual B shows examples of QoL<br>components and is more visually appealing</div>
<div class="a fn" style="left:678px;top:536.5px">ᵃAided takeaway: Adding the Drug to ADT did NOT make QoL worse.</div>

<div class="a b" style="left:675px;top:560px;font-size:6.2px;line-height:8px">Interpretation of visuals across subgroups</div>
<div class="a" style="left:683px;top:571.85px;font-size:6.6px;line-height:8.3px">For many visuals, there were no consistent, robust patterns of differences in accuracy of interpretation based<br>on factors associated with health outcomes and health literacy, including income level, education, and race</div>

<div class="a" style="left:802px;top:616px;font-size:11px;line-height:12px;font-family:'Liberation Serif',serif;color:#231f20">Prostate Cancer</div>
<div class="a b c w" style="left:668px;top:649px;font-size:6px;line-height:8px">Presented by DE Spratt (Daniel.Spratt@UHhospitals.org) at the 2024 ASCO Annual Meeting: May 31 - June 4, 2024; Chicago, IL, USA &amp; Online</div>
</body></html>
